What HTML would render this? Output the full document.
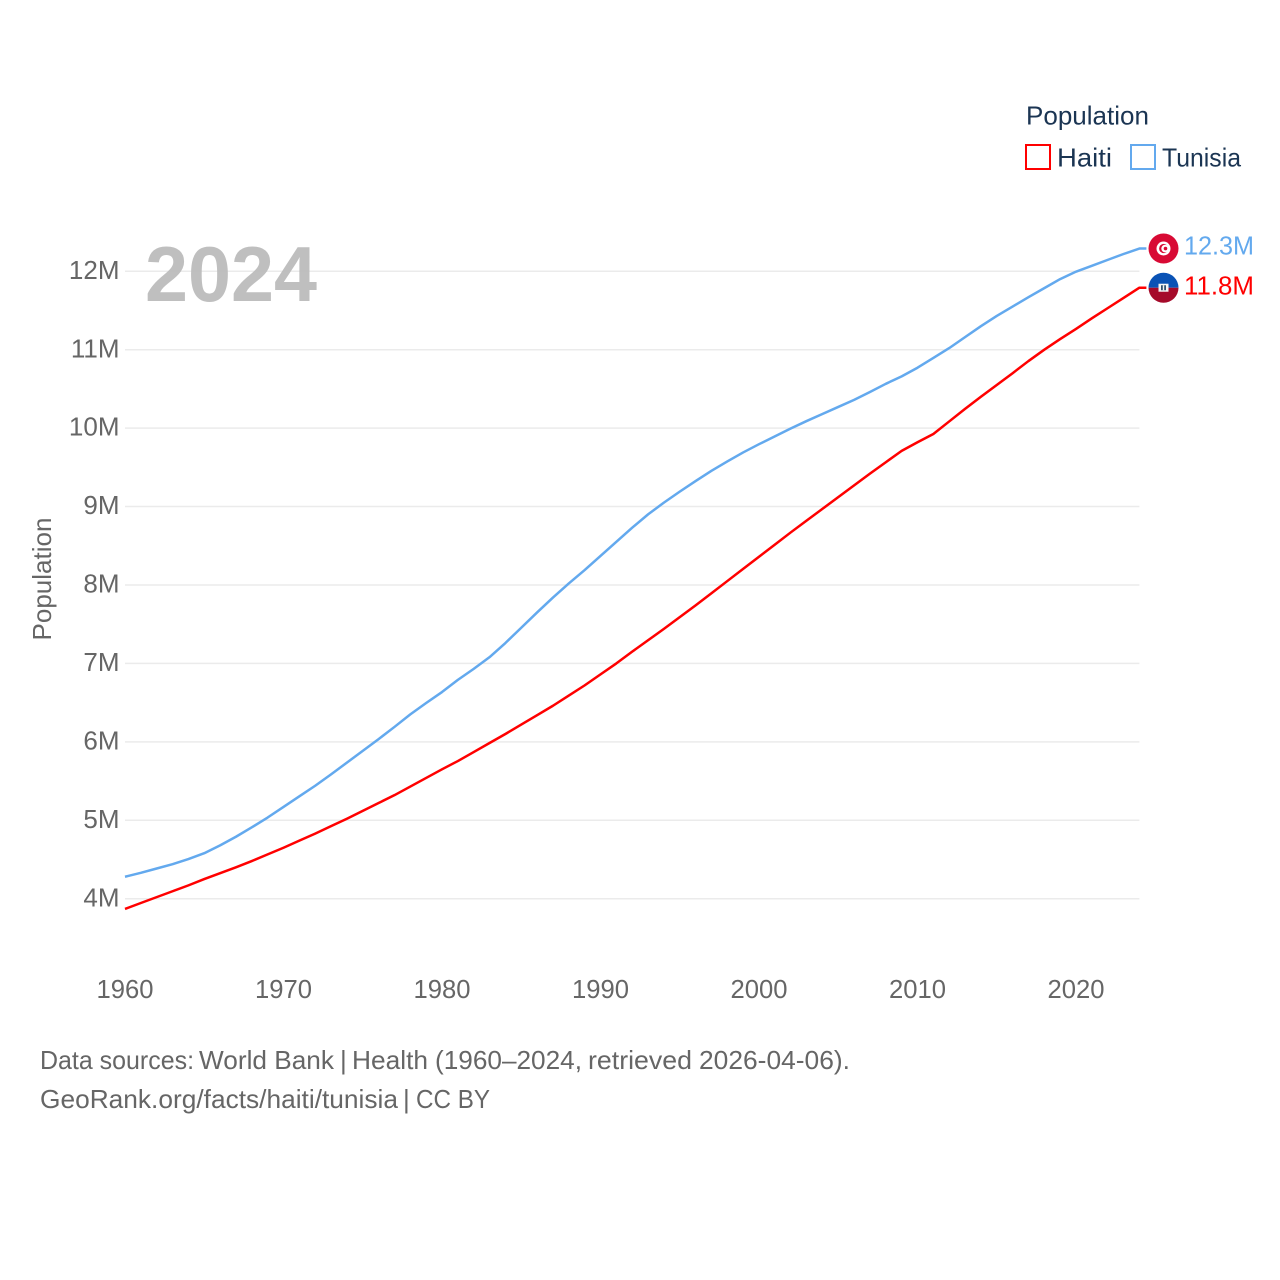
<!DOCTYPE html>
<html lang="en">
<head>
<meta charset="utf-8">
<title>Population: Haiti and Tunisia</title>
<style>
html,body{margin:0;padding:0;background:#fff;}
svg{display:block;}
text{font-family:"Liberation Sans",sans-serif;}
</style>
</head>
<body>
<svg id="chart" xmlns="http://www.w3.org/2000/svg" width="1280" height="1280" viewBox="0 0 1280 1280">
  <rect x="0" y="0" width="1280" height="1280" fill="#ffffff"/>
  <g id="grid"></g>
  <text x="145" y="301" font-size="78" font-weight="700" fill="#bcbcbc" fill-opacity="0.95" textLength="172" lengthAdjust="spacingAndGlyphs">2024</text>
  <g id="yticks"></g>
  <g id="xticks"></g>
  <text transform="translate(51,579) rotate(-90)" text-anchor="middle" font-size="26" fill="#666666" textLength="123" lengthAdjust="spacingAndGlyphs">Population</text>
  <g id="series"></g>
  <g id="ends"></g>
  <g>
    <text x="1026" y="124.5" font-size="26" fill="#1b3553" textLength="123" lengthAdjust="spacingAndGlyphs">Population</text>
    <rect x="1026" y="145" width="24" height="24" fill="none" stroke="#ff0000" stroke-width="2"/>
    <text x="1057" y="166.5" font-size="26" fill="#1b3553" textLength="55" lengthAdjust="spacingAndGlyphs">Haiti</text>
    <rect x="1131" y="145" width="24" height="24" fill="none" stroke="#63a9ee" stroke-width="2"/>
    <text x="1162" y="166.5" font-size="26" fill="#1b3553" textLength="79" lengthAdjust="spacingAndGlyphs">Tunisia</text>
  </g>
  <g font-size="26" fill="#666666">
    <text x="40" y="1069" textLength="154" lengthAdjust="spacingAndGlyphs">Data sources:</text>
    <text x="199" y="1069" textLength="135" lengthAdjust="spacingAndGlyphs">World Bank</text>
    <text x="340" y="1069">|</text>
    <text x="352" y="1069" textLength="76" lengthAdjust="spacingAndGlyphs">Health</text>
    <text x="435" y="1069" textLength="147" lengthAdjust="spacingAndGlyphs">(1960–2024,</text>
    <text x="588" y="1069" textLength="104" lengthAdjust="spacingAndGlyphs">retrieved</text>
    <text x="699" y="1069" textLength="151" lengthAdjust="spacingAndGlyphs">2026-04-06).</text>
  </g>
  <g font-size="26" fill="#666666">
    <text x="40" y="1108" textLength="358" lengthAdjust="spacingAndGlyphs">GeoRank.org/facts/haiti/tunisia</text>
    <text x="403" y="1108">|</text>
    <text x="416" y="1108" textLength="74" lengthAdjust="spacingAndGlyphs">CC BY</text>
  </g>
</svg>
<script>
const startYear = 1960;
const xTickYears = [1960, 1970, 1980, 1990, 2000, 2010, 2020];
const yTickValues = [4, 5, 6, 7, 8, 9, 10, 11, 12];
const haitiValues = [
  3.87, 3.945, 4.02, 4.095, 4.17, 4.25, 4.325, 4.40, 4.48, 4.565,
  4.65, 4.74, 4.83, 4.925, 5.02, 5.12, 5.22, 5.32, 5.43, 5.54,
  5.65, 5.755, 5.87, 5.985, 6.10, 6.22, 6.34, 6.46, 6.59, 6.72,
  6.86, 7.00, 7.15, 7.295, 7.44, 7.59, 7.74, 7.895, 8.05, 8.205,
  8.36, 8.515, 8.67, 8.82, 8.97, 9.12, 9.27, 9.42, 9.565, 9.71,
  9.82, 9.925, 10.085, 10.245, 10.40, 10.55, 10.70, 10.855, 11.00, 11.135,
  11.265, 11.40, 11.53, 11.66, 11.79
];
const tunisiaValues = [
  4.28, 4.33, 4.385, 4.44, 4.505, 4.58, 4.68, 4.79, 4.91, 5.035,
  5.17, 5.305, 5.44, 5.585, 5.735, 5.885, 6.035, 6.19, 6.35, 6.495,
  6.635, 6.79, 6.93, 7.08, 7.26, 7.455, 7.65, 7.84, 8.02, 8.19,
  8.37, 8.55, 8.73, 8.90, 9.05, 9.19, 9.325, 9.455, 9.575, 9.69,
  9.795, 9.895, 9.995, 10.09, 10.18, 10.27, 10.36, 10.46, 10.565, 10.66,
  10.77, 10.895, 11.02, 11.16, 11.30, 11.43, 11.55, 11.67, 11.785, 11.90,
  11.995, 12.07, 12.145, 12.22, 12.29
];

const NS = 'http://www.w3.org/2000/svg';
function xScale(year) { return 125 + (year - 1960) * 15.85; }
function yScale(v) { return 898.7 - (v - 4) * 78.43; }
function mk(parent, tag, attrs, txt) {
  const el = document.createElementNS(NS, tag);
  for (const k in attrs) el.setAttribute(k, attrs[k]);
  if (txt !== undefined) el.textContent = txt;
  parent.appendChild(el);
  return el;
}
const gridG = document.getElementById('grid');
const yG = document.getElementById('yticks');
const xG = document.getElementById('xticks');
const seriesG = document.getElementById('series');
const endsG = document.getElementById('ends');
const lastX = xScale(startYear + haitiValues.length - 1);

yTickValues.forEach(function (v) {
  const line = mk(gridG, 'line', {x1: 125, x2: lastX, y1: yScale(v), y2: yScale(v), stroke: '#ebebeb', 'stroke-width': 1.5});
  
  
  const label = v + 'M';
  const t = mk(yG, 'text', {x: 119.5, y: yScale(v) + 7.6, 'text-anchor': 'end', 'font-size': 26, fill: '#666666'}, label);
  
  
});

xTickYears.forEach(function (yr) {
  const t = mk(xG, 'text', {x: xScale(yr), y: 998, 'text-anchor': 'middle', 'font-size': 26, fill: '#666666', textLength: 57, lengthAdjust: 'spacingAndGlyphs'}, String(yr));
  
  
});

function linePath(values) {
  let d = '';
  values.forEach(function (v, i) {
    d += (i ? 'L' : 'M') + xScale(startYear + i).toFixed(2) + ' ' + yScale(v).toFixed(2);
  });
  const lv = values[values.length - 1];
  d += 'L' + (lastX + 7) + ' ' + yScale(lv).toFixed(2);
  return d;
}

const tunisiaLine = mk(seriesG, 'path', {d: linePath(tunisiaValues), fill: 'none', stroke: '#63a9ee', 'stroke-width': 2.5, 'stroke-linejoin': 'round'});


const haitiLine = mk(seriesG, 'path', {d: linePath(haitiValues), fill: 'none', stroke: '#ff0000', 'stroke-width': 2.5, 'stroke-linejoin': 'round'});



/* Tunisia end marker */
const ty = yScale(tunisiaValues[tunisiaValues.length - 1]);
const tFlag = mk(endsG, 'g', {transform: 'translate(1163.5,' + ty + ')'});


mk(tFlag, 'circle', {r: 15, fill: '#d80a34'});
mk(tFlag, 'circle', {r: 7, fill: '#ffffff'});
mk(tFlag, 'circle', {r: 4.6, cx: 0.2, fill: '#d80a34'});
mk(tFlag, 'circle', {r: 3.8, cx: 1.6, fill: '#ffffff'});
mk(tFlag, 'circle', {r: 1.8, cx: 2, fill: '#d80a34'});
const tLabel = mk(endsG, 'text', {x: 1184, y: ty + 6, 'font-size': 26, fill: '#63a9ee', textLength: 70, lengthAdjust: 'spacingAndGlyphs'}, tunisiaValues[tunisiaValues.length - 1].toFixed(1) + 'M');



/* Haiti end marker */
const hy = yScale(haitiValues[haitiValues.length - 1]);
const hFlag = mk(endsG, 'g', {transform: 'translate(1163.5,' + hy + ')'});


mk(hFlag, 'path', {d: 'M-15 0A15 15 0 0 1 15 0Z', fill: '#0a52b5'});
mk(hFlag, 'path', {d: 'M-15 0A15 15 0 0 0 15 0Z', fill: '#a50a2a'});
mk(hFlag, 'rect', {x: -5, y: -4, width: 10, height: 8, fill: '#f4f4f4'});
mk(hFlag, 'rect', {x: -2.5, y: -2.5, width: 5, height: 5, fill: '#30506e'});
mk(hFlag, 'rect', {x: -0.7, y: -2.5, width: 1.4, height: 5, fill: '#f4f4f4'});
const hLabel = mk(endsG, 'text', {x: 1184, y: hy + 7, 'font-size': 26, fill: '#ff0000', textLength: 70, lengthAdjust: 'spacingAndGlyphs'}, haitiValues[haitiValues.length - 1].toFixed(1) + 'M');


</script>
</body>
</html>
